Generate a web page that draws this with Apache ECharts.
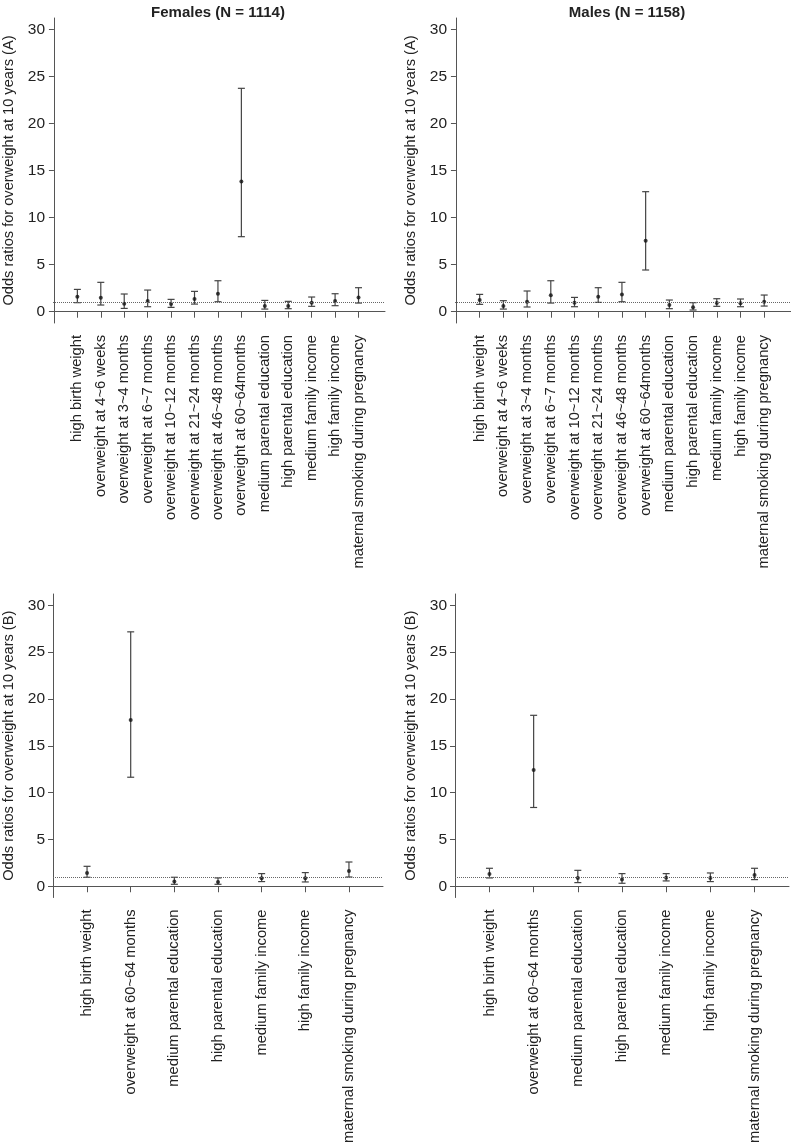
<!DOCTYPE html>
<html>
<head>
<meta charset="utf-8">
<script src="https://cdn.jsdelivr.net/npm/echarts@6/dist/echarts.min.js"></script>
<style>
  html, body { margin: 0; padding: 0; background: #fff; }
  #chart { width: 791px; height: 1146px; }
</style>
</head>
<body>
<div id="chart"></div>
<script>
// categories
const categoriesA = [
  'high birth weight', 'overweight at 4~6 weeks', 'overweight at 3~4 months',
  'overweight at 6~7 months', 'overweight at 10~12 months', 'overweight at 21~24 months',
  'overweight at 46~48 months', 'overweight at 60~64months', 'medium parental education',
  'high parental education', 'medium family income', 'high family income',
  'maternal smoking during pregnancy'
]
const categoriesB = [
  'high birth weight', 'overweight at 60~64 months', 'medium parental education',
  'high parental education', 'medium family income', 'high family income',
  'maternal smoking during pregnancy'
]
const yTicks = [0, 5, 10, 15, 20, 25, 30]

// odds ratios with lower / upper confidence limits
const femalesA_or = [1.59, 1.49, 0.85, 1.13, 0.81, 1.35, 1.91, 13.82, 0.60, 0.60, 0.96, 1.13, 1.52]
const femalesA_lo = [0.96, 0.71, 0.35, 0.53, 0.46, 0.81, 1.06, 7.97, 0.28, 0.32, 0.57, 0.64, 0.92]
const femalesA_hi = [2.37, 3.12, 1.88, 2.30, 1.31, 2.16, 3.29, 23.73, 1.20, 1.10, 1.56, 1.91, 2.55]

const malesA_or = [1.24, 0.60, 1.06, 1.74, 0.96, 1.59, 1.84, 7.55, 0.71, 0.46, 0.92, 0.89, 1.06]
const malesA_lo = [0.78, 0.28, 0.50, 0.92, 0.53, 0.99, 1.06, 4.43, 0.32, 0.18, 0.57, 0.53, 0.60]
const malesA_hi = [1.84, 1.17, 2.20, 3.29, 1.52, 2.55, 3.12, 12.75, 1.24, 0.96, 1.38, 1.35, 1.77]

const femalesB_or = [1.42, 17.75, 0.50, 0.46, 0.85, 0.85, 1.63]
const femalesB_lo = [0.96, 11.64, 0.21, 0.21, 0.50, 0.46, 0.99]
const femalesB_hi = [2.13, 27.16, 0.96, 0.89, 1.35, 1.46, 2.59]

const malesB_or = [1.31, 12.42, 0.89, 0.71, 0.92, 0.89, 1.21]
const malesB_lo = [0.89, 8.41, 0.39, 0.32, 0.57, 0.50, 0.71]
const malesB_hi = [1.92, 18.25, 1.70, 1.35, 1.35, 1.42, 1.92]

const font = 'Liberation Sans, Arial, Helvetica, sans-serif'
const textColor = '#222'
const axisColor = '#555'

const panels = [
  { cats: categoriesA, or: femalesA_or, lo: femalesA_lo, hi: femalesA_hi, name: 'Odds ratios for overweight at 10 years (A)',
    grid: { left: 48, top: 18, width: 337, height: 305 }, xmin: -0.04, xmax: 14.13 },
  { cats: categoriesA, or: malesA_or, lo: malesA_lo, hi: malesA_hi, name: 'Odds ratios for overweight at 10 years (A)',
    grid: { left: 455, top: 18, width: 336, height: 305 }, xmin: -0.04, xmax: 14.13 },
  { cats: categoriesB, or: femalesB_or, lo: femalesB_lo, hi: femalesB_hi, name: 'Odds ratios for overweight at 10 years (B)',
    grid: { left: 48, top: 594, width: 335, height: 304 }, xmin: 0.22, xmax: 7.78 },
  { cats: categoriesB, or: malesB_or, lo: malesB_lo, hi: malesB_hi, name: 'Odds ratios for overweight at 10 years (B)',
    grid: { left: 455, top: 594, width: 334, height: 304 }, xmin: 0.22, xmax: 7.78 }
]

const chart = echarts.init(document.getElementById('chart'), null, { renderer: 'canvas' })

const grids = []
const xAxes = []
const yAxes = []
const series = []

panels.forEach((p, i) => {
  const positions = p.cats.map((_, k) => k + 1)
  grids.push(p.grid)
  xAxes.push({
    gridIndex: i,
    type: 'value',
    min: p.xmin,
    max: p.xmax,
    splitLine: { show: false },
    axisLine: { show: true, lineStyle: { color: axisColor, width: 1 } },
    axisTick: { show: true, length: 6, customValues: positions, lineStyle: { color: axisColor } },
    axisLabel: {
      customValues: positions,
      rotate: 90,
      margin: 12,
      fontSize: 14.7,
      fontFamily: font,
      color: textColor,
      formatter: (v) => p.cats[Math.round(v) - 1] || ''
    }
  })
  yAxes.push({
    gridIndex: i,
    type: 'value',
    min: -1.2,
    max: 31.2,
    name: p.name,
    nameLocation: 'middle',
    nameGap: 37,
    nameTextStyle: { fontSize: 14.6, fontFamily: font, color: textColor },
    splitLine: { show: false },
    axisLine: { show: true, lineStyle: { color: axisColor, width: 1 } },
    axisTick: { show: true, length: 5, customValues: yTicks, lineStyle: { color: axisColor } },
    axisLabel: { customValues: yTicks, margin: 8, fontSize: 15.5, fontFamily: font, color: textColor }
  })

  // confidence interval bars
  series.push({
    type: 'custom',
    xAxisIndex: i,
    yAxisIndex: i,
    silent: true,
    data: positions.map((x, k) => [x, p.lo[k], p.hi[k]]),
    renderItem: (params, api) => {
      const lo = api.coord([api.value(0), api.value(1)])
      const hi = api.coord([api.value(0), api.value(2)])
      const cap = 3.5
      const style = { stroke: '#444', lineWidth: 1.2 }
      return {
        type: 'group',
        children: [
          { type: 'line', shape: { x1: lo[0], y1: lo[1], x2: hi[0], y2: hi[1] }, style },
          { type: 'line', shape: { x1: hi[0] - cap, y1: hi[1], x2: hi[0] + cap, y2: hi[1] }, style },
          { type: 'line', shape: { x1: lo[0] - cap, y1: lo[1], x2: lo[0] + cap, y2: lo[1] }, style }
        ]
      }
    }
  })

  // point estimates + reference line at OR = 1
  series.push({
    type: 'scatter',
    xAxisIndex: i,
    yAxisIndex: i,
    silent: true,
    symbol: 'circle',
    symbolSize: 4,
    itemStyle: { color: '#111' },
    data: positions.map((x, k) => [x, p.or[k]]),
    markLine: {
      silent: true,
      symbol: 'none',
      label: { show: false },
      lineStyle: { type: 'dotted', color: '#666', width: 1 },
      data: [{ yAxis: 1 }]
    }
  })
})

chart.setOption({
  animation: false,
  backgroundColor: '#fff',
  title: [
    { text: 'Females (N = 1114)', left: 213, top: 0, textAlign: 'center',
      textStyle: { fontSize: 15, fontWeight: 'bold', fontFamily: font, color: textColor } },
    { text: 'Males (N = 1158)', left: 622, top: 0, textAlign: 'center',
      textStyle: { fontSize: 15, fontWeight: 'bold', fontFamily: font, color: textColor } }
  ],
  grid: grids,
  xAxis: xAxes,
  yAxis: yAxes,
  series
})

window.addEventListener('resize', () => chart.resize())
</script>
</body>
</html>
